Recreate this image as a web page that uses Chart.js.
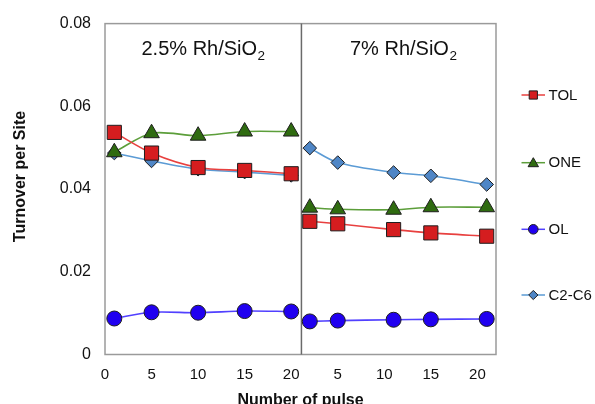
<!DOCTYPE html>
<html><head><meta charset="utf-8">
<script src="https://cdn.jsdelivr.net/npm/chart.js@4.4.1/dist/chart.umd.min.js"></script>
<style>html,body{margin:0;padding:0;background:#fff}#wrap{width:595px;height:404px}canvas{display:block}</style>
</head><body><div id="wrap"><canvas id="c" width="595" height="404"></canvas></div>
<script>
// ---------- data ----------
const seriesNames = ["TOL", "ONE", "OL", "C2-C6"];
const pulsesLeft  = [1, 5, 10, 15, 20];
const pulsesRight = [2, 5, 11, 15, 21];
const tolLeft    = [0.0537, 0.0487, 0.0452, 0.0445, 0.0437];
const tolRight   = [0.0322, 0.0316, 0.0302, 0.0294, 0.0286];
const oneLeft    = [0.0489, 0.0535, 0.0529, 0.0539, 0.0539];
const oneRight   = [0.0355, 0.0351, 0.0350, 0.0356, 0.0356];
const olLeft     = [0.0087, 0.0102, 0.0101, 0.0105, 0.0104];
const olRight    = [0.0080, 0.0082, 0.0084, 0.0085, 0.0086];
const c2c6Left   = [0.0487, 0.0468, 0.0448, 0.0441, 0.0433];
const c2c6Right  = [0.0499, 0.0464, 0.0440, 0.0432, 0.0411];
const yTickValues = [0, 0.02, 0.04, 0.06, 0.08];
const yTickLabels = ["0", "0.02", "0.04", "0.06", "0.08"];
const xTicksLeft  = [0, 5, 10, 15, 20];
const xTicksRight = [5, 10, 15, 20];
const panelTitles = ["2.5% Rh/SiO", "7% Rh/SiO"];
const panelSub = "2";
const xTitle = "Number of pulse";
const yTitle = "Turnover per Site";
const rightPanelOffset = 20;   // right panel pulses drawn after the left panel on a shared axis
const dividerPulse = 21.1;
const xMax = 42;

// ---------- styles ----------
const FONT = "'Liberation Sans', Arial, sans-serif";
const styles = [
  {point: 'rect',     r: 10,  lr: 5.8, fill: '#d51d1f', line: '#e8403f'},
  {point: 'triangle', r: 9,   lr: 6,   fill: '#2f6b10', line: '#5c9e3a'},
  {point: 'circle',   r: 7.5, lr: 4.8, fill: '#2000f0', line: '#5140ff'},
  {point: 'rectRot',  r: 6.8, lr: 4.6, fill: '#4f86c6', line: '#5b9bd5'}
];
const leftVals  = [tolLeft, oneLeft, olLeft, c2c6Left];
const rightVals = [tolRight, oneRight, olRight, c2c6Right];

function pts(xs, ys, off) { return xs.map((x, i) => ({x: x + off, y: ys[i]})); }
const datasets = [];
[0, 1].forEach(panel => {
  seriesNames.forEach((name, s) => {
    const st = styles[s];
    datasets.push({
      label: name,
      data: panel === 0 ? pts(pulsesLeft, leftVals[s], 0) : pts(pulsesRight, rightVals[s], rightPanelOffset),
      borderColor: st.line, borderWidth: 1.6, tension: 0.3,
      pointStyle: st.point, pointRadius: st.r, pointBackgroundColor: st.fill,
      pointBorderColor: '#1e1e1e', pointBorderWidth: 1, order: s, clip: false
    });
  });
});
const xTickPos = xTicksLeft.concat(xTicksRight.map(v => v + rightPanelOffset));
const xTickLabels = xTicksLeft.concat(xTicksRight).map(String);

function marker(ctx, type, x, y, r, fill) {
  ctx.beginPath();
  if (type === 'rect') { const s = r * Math.SQRT1_2; ctx.rect(x - s, y - s, 2 * s, 2 * s); }
  else if (type === 'triangle') {
    ctx.moveTo(x, y - r); ctx.lineTo(x + r * 0.866, y + r * 0.5); ctx.lineTo(x - r * 0.866, y + r * 0.5); ctx.closePath();
  } else if (type === 'circle') { ctx.arc(x, y, r, 0, Math.PI * 2); }
  else { ctx.moveTo(x - r, y); ctx.lineTo(x, y - r); ctx.lineTo(x + r, y); ctx.lineTo(x, y + r); ctx.closePath(); }
  ctx.fillStyle = fill; ctx.fill();
  ctx.strokeStyle = '#1e1e1e'; ctx.lineWidth = 1; ctx.stroke();
}

const decor = {
  id: 'decor',
  beforeDatasetsDraw(chart) {
    const {ctx, chartArea: a, scales} = chart;
    ctx.save();
    ctx.strokeStyle = '#9a9a9a'; ctx.lineWidth = 1.5;
    ctx.strokeRect(a.left, a.top, a.right - a.left, a.bottom - a.top);
    const dx = scales.x.getPixelForValue(dividerPulse);
    ctx.strokeStyle = '#6a6a6a';
    ctx.beginPath(); ctx.moveTo(dx, a.top); ctx.lineTo(dx, a.bottom); ctx.stroke();
    ctx.restore();
  },
  afterDraw(chart) {
    const {ctx} = chart;
    ctx.save();
    ctx.fillStyle = '#111';
    const pos = [[141.5, 55], [350, 55]];
    panelTitles.forEach((t, i) => {
      ctx.font = '20px ' + FONT; ctx.textAlign = 'left'; ctx.textBaseline = 'alphabetic';
      ctx.fillText(t, pos[i][0], pos[i][1]);
      const w = ctx.measureText(t).width;
      ctx.font = '13.5px ' + FONT;
      ctx.fillText(panelSub, pos[i][0] + w + 0.5, pos[i][1] + 5);
    });
    ctx.font = 'bold 16px ' + FONT;
    ctx.textAlign = 'center'; ctx.textBaseline = 'alphabetic';
    ctx.fillText(xTitle, 300.5, 405);
    ctx.save();
    ctx.translate(24.5, 176.5); ctx.rotate(-Math.PI / 2);
    ctx.fillText(yTitle, 0, 0);
    ctx.restore();
    const ly = [95, 162.7, 229.3, 295];
    seriesNames.forEach((n, i) => {
      const st = styles[i];
      ctx.strokeStyle = st.line; ctx.lineWidth = 1.5;
      ctx.beginPath(); ctx.moveTo(521.5, ly[i]); ctx.lineTo(545, ly[i]); ctx.stroke();
      marker(ctx, st.point, 533.3, ly[i] + (st.point === 'triangle' ? 1 : 0), st.lr, st.fill);
      ctx.fillStyle = '#111'; ctx.font = '15px ' + FONT;
      ctx.textAlign = 'left'; ctx.textBaseline = 'middle';
      ctx.fillText(n, 548.5, ly[i] + 0.5);
    });
    ctx.restore();
  }
};

new Chart(document.getElementById('c'), {
  type: 'line',
  data: {datasets},
  plugins: [decor],
  options: {
    responsive: false, animation: false,
    layout: {padding: {top: 20, right: 99, left: 0, bottom: 0}},
    plugins: {legend: {display: false}, tooltip: {enabled: false}},
    scales: {
      x: {
        type: 'linear', min: 0, max: xMax,
        grid: {display: false, drawTicks: false}, border: {display: false},
        afterBuildTicks: s => { s.ticks = xTickPos.map(v => ({value: v})); },
        afterFit: s => { s.height = 49.5; },
        ticks: {autoSkip: false, maxRotation: 0, padding: 11, color: '#111',
          font: {family: FONT, size: 15}, callback: (v, i) => xTickLabels[i]}
      },
      y: {
        min: 0, max: 0.08,
        grid: {display: false, drawTicks: false}, border: {display: false},
        afterBuildTicks: s => { s.ticks = yTickValues.map(v => ({value: v})); },
        afterFit: s => { s.width = 105; },
        ticks: {padding: 14, color: '#111', font: {family: FONT, size: 16},
          callback: (v, i) => yTickLabels[i]}
      }
    }
  }
});
</script></body></html>
